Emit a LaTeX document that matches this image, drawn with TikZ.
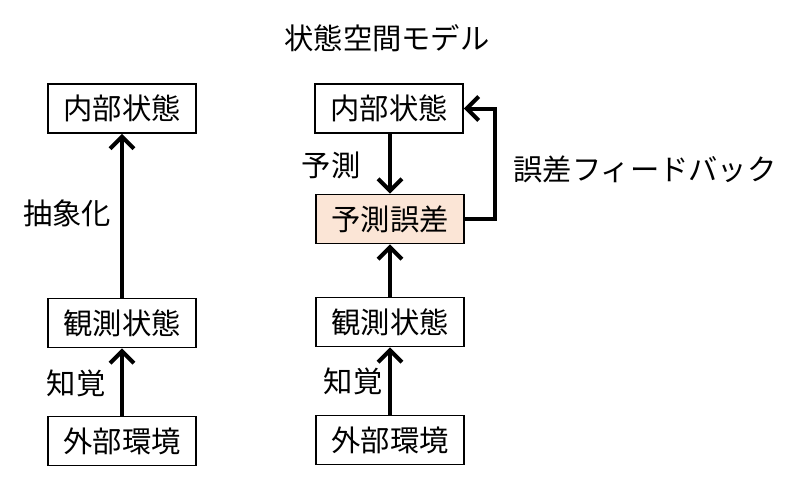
\documentclass[tikz,border=0pt]{standalone}
\usepackage{fontspec}
\setmainfont{Noto Sans CJK JP}
\usetikzlibrary{arrows.meta}
\definecolor{peach}{HTML}{FBE5D6}
\begin{document}
\begin{tikzpicture}[x=1pt,y=-1pt,
  every node/.style={font=\fontsize{29.3}{31}\selectfont, inner sep=0pt},
  box/.style={draw=black, line width=1.8pt, minimum width=148pt, minimum height=49pt},
  conn/.style={line width=4pt, -{Straight Barb[length=12pt,width=24pt,line width=4pt]}},
  lbl/.style={}]
\useasboundingbox (0,0) rectangle (800,493);
% title
\node (title) at (387,38) {状態空間モデル};
% left column
\node[box] (li) at (122,108.5) {内部状態};
\node[box] (lo) at (122,323) {観測状態};
\node[box] (le) at (122,441) {外部環境};
\draw[conn] (le.north) -- (lo.south);
\draw[conn] (lo.north) -- (li.south);
\node[lbl] (abs) at (67,213) {抽象化};
\node[lbl] (lp) at (76,383) {知覚};
% right column
\node[box] (ri) at (389,108.5) {内部状態};
\node[box, fill=peach] (rp) at (390,219) {予測誤差};
\node[box] (ro) at (390,322) {観測状態};
\node[box] (re) at (390,440) {外部環境};
\draw[conn] (re.north) -- (ro.south);
\draw[conn] (ro.north) -- (rp.south);
\draw[conn] (ri.south -| rp.north) -- (rp.north);
\coordinate (fb1) at (495,219);
\coordinate (fb2) at (495,108.5);
\draw[conn] (rp.east) -- (fb1) -- (fb2) -- (ri.east);
\node[lbl] (pred) at (331,165) {予測};
\node[lbl] (rperc) at (353,381) {知覚};
\node[lbl] (fb) at (645,169) {誤差フィードバック};
\end{tikzpicture}
\end{document}
